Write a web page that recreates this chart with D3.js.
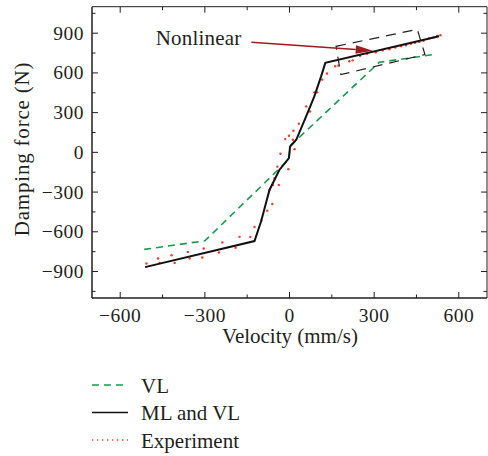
<!DOCTYPE html>
<html><head><meta charset="utf-8">
<script src="https://cdn.jsdelivr.net/npm/d3@7"></script>
<style>
html,body{margin:0;padding:0;background:#fff;}
svg text{font-family:"Liberation Serif","Times New Roman",serif;fill:#231f20;}
</style></head>
<body><svg id="c" width="488" height="456"></svg>
<script>
// ---------- data ----------
const xTicks = [-600, -300, 0, 300, 600];
const yTicks = [-900, -600, -300, 0, 300, 600, 900];
const xTitle = "Velocity (mm/s)";
const yTitle = "Damping force (N)";
const seriesNames = ["VL", "ML and VL", "Experiment"];

// VL model (green dashed)
const vlX = [-515, -300, -3, 3, 318, 506];
const vlY = [-733, -668, -55, 50, 680, 737];

// ML and VL model (black solid)
const mlX = [-512, -124, -100, -71, -36, -2, 2, 24, 59, 88, 112, 127, 530];
const mlY = [-867, -670, -517, -284, -133, -44, 44, 95, 271, 423, 574, 676, 877];

// Experiment (red dots)
const expX = [-507, -466, -460, -418, -407, -360, -354, -304, -309, -238, -250, -177, -191, -139,
  -124, -100, -79, -61, -71, -59, -53, -38, -43, -4, -32, 18, -15, -2, 14, 12, 33, 59, 73, 88, 98,
  116, 133, 162, 173, 212, 224, 250, 275, 306, 330, 354, 375, 395, 413, 430, 445, 460, 475, 495, 510, 524, 535];
const expY = [-839, -802, -835, -777, -835, -752, -802, -726, -794, -680, -756, -638, -721, -638,
  -564, -517, -441, -390, -284, -246, -195, -246, -108, -127, -11, 24, 100, 125, 163, 95, 216, 347, 309, 453, 453,
  549, 595, 650, 655, 688, 695, 730, 745, 755, 770, 779, 792, 802, 809, 820, 828, 834, 843, 862, 868, 880, 884];

// annotation (data coordinates)
const boxX = [165, 453, 480, 182];
const boxY = [801, 929, 739, 587];
const arrowX = [-135, 295];
const arrowY = [832, 768];
const noteLabel = "Nonlinear";
const noteX = -474, noteY = 807;

// ---------- chart ----------
const svg = d3.select("#c");
const X0 = 92, X1 = 487, Y0 = 298, Y1 = 6.7;
const x = d3.scaleLinear().domain([-700, 700]).range([X0, X1]);
const y = d3.scaleLinear().domain([-1100, 1100]).range([Y0, Y1]);

const minorX = d3.range(-600, 701, 150);
const minorY = d3.range(-1050, 1051, 150);

// ticks (inward) on all sides
const ax = svg.append("g").attr("stroke", "#231f20").attr("stroke-width", 1);
minorX.forEach(v => {
  const major = xTicks.includes(v);
  const L = major ? 6 : 3.5;
  ax.append("line").attr("x1", x(v)).attr("x2", x(v)).attr("y1", Y0).attr("y2", Y0 - L);
  ax.append("line").attr("x1", x(v)).attr("x2", x(v)).attr("y1", Y1).attr("y2", Y1 + L);
});
minorY.forEach(v => {
  const major = yTicks.includes(v);
  const L = major ? 6 : 3.5;
  ax.append("line").attr("y1", y(v)).attr("y2", y(v)).attr("x1", X0).attr("x2", X0 + L);
  ax.append("line").attr("y1", y(v)).attr("y2", y(v)).attr("x1", X1).attr("x2", X1 - L);
});
// frame
svg.append("line").attr("x1", X0).attr("x2", X1).attr("y1", Y1).attr("y2", Y1).attr("stroke", "#231f20").attr("stroke-width", 1);
svg.append("line").attr("x1", X1).attr("x2", X1).attr("y1", Y1).attr("y2", Y0).attr("stroke", "#231f20").attr("stroke-width", 1);
svg.append("line").attr("x1", X0).attr("x2", X1).attr("y1", Y0).attr("y2", Y0).attr("stroke", "#231f20").attr("stroke-width", 1.5);
svg.append("line").attr("x1", X0).attr("x2", X0).attr("y1", Y1).attr("y2", Y0).attr("stroke", "#231f20").attr("stroke-width", 1.5);

const fmt = v => (v < 0 ? "\u2212" + Math.abs(v) : String(v));
svg.append("g").selectAll("text").data(xTicks).join("text")
  .attr("x", d => x(d)).attr("y", 322).attr("text-anchor", "middle")
  .attr("font-size", 19.5).attr("letter-spacing", 0.5).text(fmt);
svg.append("g").selectAll("text").data(yTicks).join("text")
  .attr("x", 84).attr("y", d => y(d) + 6.5).attr("text-anchor", "end")
  .attr("font-size", 19.5).attr("letter-spacing", 0.5).text(fmt);

svg.append("text").attr("x", 290).attr("y", 343).attr("text-anchor", "middle")
  .attr("font-size", 21).text(xTitle);
svg.append("text").attr("transform", "translate(28.5,149) rotate(-90)").attr("text-anchor", "middle")
  .attr("font-size", 21).attr("letter-spacing", 0.8).text(yTitle);

const line = d3.line().x(d => x(d[0])).y(d => y(d[1]));
const plot = svg.append("g");

const GREEN = "#169c4c", RED = "#f23a2a", BLACK = "#111";

plot.append("path").datum(vlX.map((v, i) => [v, vlY[i]])).attr("d", line)
  .attr("fill", "none").attr("stroke", GREEN).attr("stroke-width", 1.6).attr("stroke-dasharray", "7,5");

plot.append("g").selectAll("circle").data(expX.map((v, i) => [v, expY[i]])).join("circle")
  .attr("cx", d => x(d[0])).attr("cy", d => y(d[1])).attr("r", 1.2).attr("fill", RED);

plot.append("path").datum(mlX.map((v, i) => [v, mlY[i]])).attr("d", line)
  .attr("fill", "none").attr("stroke", BLACK).attr("stroke-width", 2).attr("stroke-linejoin", "miter");

// dashed box
plot.append("path").datum(boxX.map((v, i) => [v, boxY[i]])).attr("d", d => line(d) + "Z")
  .attr("fill", "none").attr("stroke", "#222").attr("stroke-width", 1.2).attr("stroke-dasharray", "10,7");

// arrow
const DR = "#9e1b20";
const ax0 = x(arrowX[0]), ay0 = y(arrowY[0]), ax1 = x(arrowX[1]), ay1 = y(arrowY[1]);
const ang = Math.atan2(ay1 - ay0, ax1 - ax0);
const hl = 17, hw = 4.2;
const bx = ax1 - hl * Math.cos(ang), by = ay1 - hl * Math.sin(ang);
plot.append("line").attr("x1", ax0).attr("y1", ay0).attr("x2", bx).attr("y2", by)
  .attr("stroke", DR).attr("stroke-width", 1.6);
plot.append("path").attr("d",
  `M${ax1},${ay1}L${bx - hw * Math.sin(ang)},${by + hw * Math.cos(ang)}L${bx + hw * Math.sin(ang)},${by - hw * Math.cos(ang)}Z`)
  .attr("fill", DR);

svg.append("text").attr("x", x(noteX)).attr("y", y(noteY)).attr("font-size", 21)
  .attr("letter-spacing", 0.2).text(noteLabel);

// legend
const lg = svg.append("g");
const legY = [385, 412.5, 440];
const legStyle = [
  {stroke: GREEN, dash: "7,5", w: 1.6},
  {stroke: BLACK, dash: null, w: 1.6},
  {stroke: RED, dash: "1.3,3.7", w: 1.4}
];
seriesNames.forEach((n, i) => {
  lg.append("line").attr("x1", 92).attr("x2", 128).attr("y1", legY[i]).attr("y2", legY[i])
    .attr("stroke", legStyle[i].stroke).attr("stroke-width", legStyle[i].w)
    .attr("stroke-dasharray", legStyle[i].dash);
  lg.append("text").attr("x", 141).attr("y", legY[i] + 7.5).attr("font-size", 21).text(n);
});
</script></body></html>
